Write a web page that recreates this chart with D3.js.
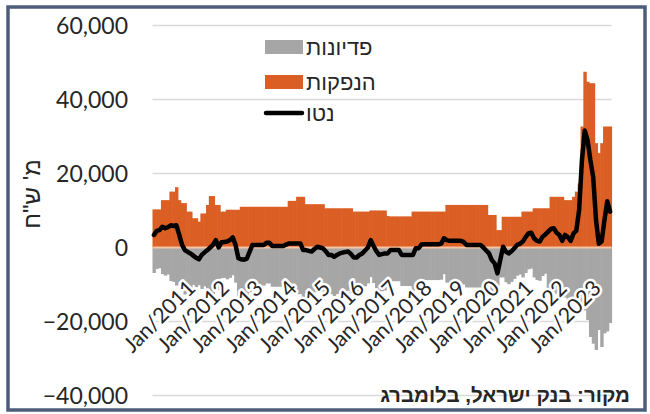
<!DOCTYPE html>
<html>
<head>
<meta charset="utf-8">
<script src="https://cdn.jsdelivr.net/npm/d3@7"></script>
<style>
  body { margin: 0; background: #fff; }
  svg { display: block; }
</style>
</head>
<body>
<div id="chart"></div>
<script>
// monthly data, Jan/2010 .. Jul/2023 (millions of shekels)
const startYear = 2010;

const issuance = [
  10300, 10300, 10300, 12800, 12800, 12800, 15100, 15100, 16300, 12800, 12000, 12000,
  9700, 9700, 7900, 7900, 7000, 9200, 9200, 11500, 13900, 13900, 11500, 11500,
  9700, 9700, 10200, 10200, 10200, 10200, 10200, 11000, 11000, 11000, 11000, 11000,
  11000, 11000, 11000, 11000, 11000, 11000, 11000, 11000, 11000, 11000, 11000, 11000,
  12600, 12600, 12600, 13700, 13700, 13700, 11700, 11700, 11700, 11700, 11700, 11700,
  11700, 10600, 10600, 10600, 10600, 10600, 10600, 10600, 10600, 10600, 10600, 9700,
  9700, 9700, 9700, 9700, 9700, 10000, 10000, 10000, 10000, 10000, 10000, 8500,
  8400, 8400, 8400, 8400, 8400, 8400, 8400, 8400, 9700, 9700, 9700, 9700,
  9700, 9700, 9700, 9700, 9700, 9700, 9700, 9700, 11500, 11500, 11500, 11500,
  11500, 11500, 11500, 11500, 11500, 11500, 11500, 11500, 11500, 11500, 11500, 8800,
  8800, 8800, 4700, 4700, 8300, 8300, 8300, 8300, 8300, 8300, 8300, 9700,
  9700, 9700, 9700, 10600, 10600, 10600, 10600, 10600, 10600, 13700, 13700, 13700,
  13700, 13700, 12800, 12800, 12800, 13700, 15100, 17300, 32700, 47500, 44800, 44400,
  44400, 28200, 25500, 28200, 32700, 32700, 32700
];

const redemptions = [
  -6900, -5800, -5600, -7200, -7600, -7300, -9100, -9300, -10300, -9400, -11300, -12700,
  -10900, -11300, -10100, -10700, -10200, -11200, -10500, -12200, -13900, -13200, -9500, -11500,
  -8300, -8200, -8600, -8200, -7500, -9500, -13100, -14200, -14300, -14000, -12100, -10300,
  -10300, -10300, -10300, -10300, -9700, -9700, -10600, -10600, -10600, -10600, -10600, -10200,
  -11500, -11500, -11500, -12600, -12600, -14400, -12400, -12600, -12800, -12100, -11500, -11700,
  -11900, -11600, -12600, -12600, -13100, -12600, -12200, -12000, -11800, -11700, -12400, -12400,
  -12400, -11700, -11300, -10500, -9700, -8000, -9600, -11000, -12000, -11800, -11600, -10100,
  -9100, -9100, -9100, -9100, -10400, -10400, -10400, -10400, -11700, -9900, -9900, -8900,
  -8800, -8800, -8800, -8800, -8800, -8800, -8700, -7200, -9500, -9700, -9700, -9700,
  -9700, -9700, -10000, -10800, -10800, -10800, -10800, -10800, -10800, -11500, -12300, -10400,
  -12200, -13100, -11700, -8100, -8100, -9400, -9900, -9300, -8500, -7600, -7300, -8100,
  -6900, -5900, -5700, -8100, -8800, -9000, -7700, -7100, -11000, -11500, -12000, -12500,
  -13000, -13000, -13500, -14000, -14000, -14200, -14500, -15300, -16000, -17000, -19600, -24200,
  -26000, -27700, -22300, -26900, -23200, -22700, -20400
];

const net = [
  3400, 4500, 4700, 5600, 5200, 5500, 6000, 5800, 6000, 3400, 700, -700,
  -1200, -1600, -2200, -2800, -3200, -2000, -1300, -700, 0, 700, 2000, 0,
  1400, 1500, 1600, 2000, 2700, 700, -2900, -3200, -3300, -3000, -1100, 700,
  700, 700, 700, 700, 1300, 1300, 400, 400, 400, 400, 400, 800,
  1100, 1100, 1100, 1100, 1100, -700, -700, -900, -1100, -400, 200, 0,
  -200, -1000, -2000, -2000, -2500, -2000, -1600, -1400, -1200, -1100, -1800, -2700,
  -2700, -2000, -1600, -800, 0, 2000, 400, -1000, -2000, -1800, -1600, -1600,
  -700, -700, -700, -700, -2000, -2000, -2000, -2000, -2000, -200, -200, 800,
  900, 900, 900, 900, 900, 900, 1000, 2500, 2000, 1800, 1800, 1800,
  1800, 1800, 1500, 700, 700, 700, 700, 700, 700, 0, -800, -1600,
  -3400, -4300, -7000, -3400, 200, -1100, -1600, -1000, -200, 700, 1000, 1600,
  2800, 3800, 4000, 2500, 1800, 1600, 2900, 3500, 4300, 5000, 5200, 4000,
  3400, 1800, 3400, 2800, 1800, 3800, 4500, 10100, 23600, 31600, 29000, 23600,
  19000, 7400, 1000, 1600, 7400, 12500, 9700
];

const tickLabels = ["Jan/2011", "Jan/2012", "Jan/2013", "Jan/2014", "Jan/2015", "Jan/2016",
  "Jan/2017", "Jan/2018", "Jan/2019", "Jan/2020", "Jan/2021", "Jan/2022", "Jan/2023"];
const yTicks = [-40000, -20000, 0, 20000, 40000, 60000];

const seriesNames = { red: "פדיונות", iss: "הנפקות", net: "נטו" };
const yTitle = "מ' ש\"ח";
const sourceText = "מקור: בנק ישראל, בלומברג";

// month category index 0..n-1
const months = d3.range(issuance.length);

var width = 650;
var height = 414;
var margin = { left: 152.5, right: 38.5, top: 25.5, bottom: 18.5 };

var orange = "#db5f24";
var gray = "#a6a6a6";
var latin = "Lato, 'Noto Sans', sans-serif";
var hebrew = "'Liberation Sans', 'DejaVu Sans', sans-serif";

let svg = d3.select("#chart")
  .append("svg")
    .attr("width", width)
    .attr("height", height);

// outer frame
svg.append("rect")
  .attr("x", 8).attr("y", 7)
  .attr("width", 637).attr("height", 403)
  .attr("fill", "#fff")
  .attr("stroke", "#4d5e7b")
  .attr("stroke-width", 3.5);

let xScale = d3.scaleBand()
  .domain(months)
  .range([margin.left, width - margin.right])
  .padding(0);

let yScale = d3.scaleLinear()
  .domain([-40000, 60000])
  .range([height - margin.bottom, margin.top]);

let bw = xScale.bandwidth();

// gridlines
svg.append("g")
  .selectAll("line")
  .data(yTicks.filter(d => d !== 0))
  .enter().append("line")
    .attr("x1", margin.left)
    .attr("x2", width - margin.right)
    .attr("y1", d => yScale(d))
    .attr("y2", d => yScale(d))
    .attr("stroke", "#d9d9d9")
    .attr("stroke-width", 1.5);

// redemptions (grey, below zero)
svg.append("g")
  .selectAll("rect")
  .data(months)
  .enter().append("rect")
    .attr("x", i => xScale(i))
    .attr("width", bw + 0.6)
    .attr("y", yScale(0))
    .attr("height", i => yScale(redemptions[i]) - yScale(0))
    .attr("fill", gray);

// issuance (orange, above zero)
svg.append("g")
  .selectAll("rect")
  .data(months)
  .enter().append("rect")
    .attr("x", i => xScale(i))
    .attr("width", bw + 0.6)
    .attr("y", i => yScale(issuance[i]))
    .attr("height", i => yScale(0) - yScale(issuance[i]))
    .attr("fill", orange);

// horizontal axis line
svg.append("line")
  .attr("x1", margin.left)
  .attr("x2", width - margin.right)
  .attr("y1", yScale(0))
  .attr("y2", yScale(0))
  .attr("stroke", "#f6c3a3")
  .attr("stroke-width", 2);

// net line
let line = d3.line()
  .x(i => xScale(i) + bw / 2)
  .y(i => yScale(net[i]));

svg.append("path")
  .datum(months)
  .attr("d", line)
  .attr("fill", "none")
  .attr("stroke", "#000")
  .attr("stroke-width", 4.5)
  .attr("stroke-linejoin", "round")
  .attr("stroke-linecap", "round");

// x axis labels, rotated, with white halo
svg.append("g")
  .selectAll("text")
  .data(tickLabels)
  .enter().append("text")
    .attr("transform", d => {
      let idx = (parseInt(d.slice(4)) - startYear) * 12;
      let tx = xScale(idx) + bw / 2 + 9;
      return "translate(" + tx + "," + (yScale(0) + 42) + ") rotate(-45)";
    })
    .attr("text-anchor", "end")
    .attr("font-family", latin)
    .attr("font-size", "21.5px")
    .attr("fill", "#262626")
    .attr("stroke", "#fff")
    .attr("stroke-width", 5)
    .attr("stroke-linejoin", "round")
    .attr("paint-order", "stroke")
    .text(d => d);

// y axis labels
svg.append("g")
  .selectAll("text")
  .data(yTicks)
  .enter().append("text")
    .attr("x", 128)
    .attr("y", d => yScale(d))
    .attr("dy", "0.36em")
    .attr("text-anchor", "end")
    .attr("font-family", latin)
    .attr("font-size", "23px")
    .attr("fill", "#262626")
    .text(d => d3.format(",")(d));

// y axis title
svg.append("text")
  .attr("transform", "translate(32,194) rotate(-90)")
  .attr("text-anchor", "middle")
  .attr("dy", "0.35em")
  .attr("font-family", hebrew)
  .attr("font-size", "24px")
  .attr("fill", "#262626")
  .text(yTitle);

// legend
let legend = svg.append("g");
legend.append("rect")
  .attr("x", 265).attr("y", 40).attr("width", 38).attr("height", 14)
  .attr("fill", gray);
legend.append("rect")
  .attr("x", 265).attr("y", 75).attr("width", 38).attr("height", 14)
  .attr("fill", orange);
legend.append("line")
  .attr("x1", 266).attr("x2", 302).attr("y1", 113).attr("y2", 113)
  .attr("stroke", "#000").attr("stroke-width", 4.5).attr("stroke-linecap", "round");

legend.selectAll("text")
  .data([[seriesNames.red, 47], [seriesNames.iss, 82], [seriesNames.net, 113]])
  .enter().append("text")
    .attr("x", 306)
    .attr("y", d => d[1])
    .attr("dy", "0.36em")
    .attr("font-family", hebrew)
    .attr("font-size", "22px")
    .attr("fill", "#262626")
    .text(d => d[0]);

// source
svg.append("text")
  .attr("x", 630)
  .attr("y", 402)
  .attr("text-anchor", "end")
  .attr("font-family", hebrew)
  .attr("font-weight", "bold")
  .attr("font-size", "20.5px")
  .attr("fill", "#262626")
  .text(sourceText);
</script>
</body>
</html>
